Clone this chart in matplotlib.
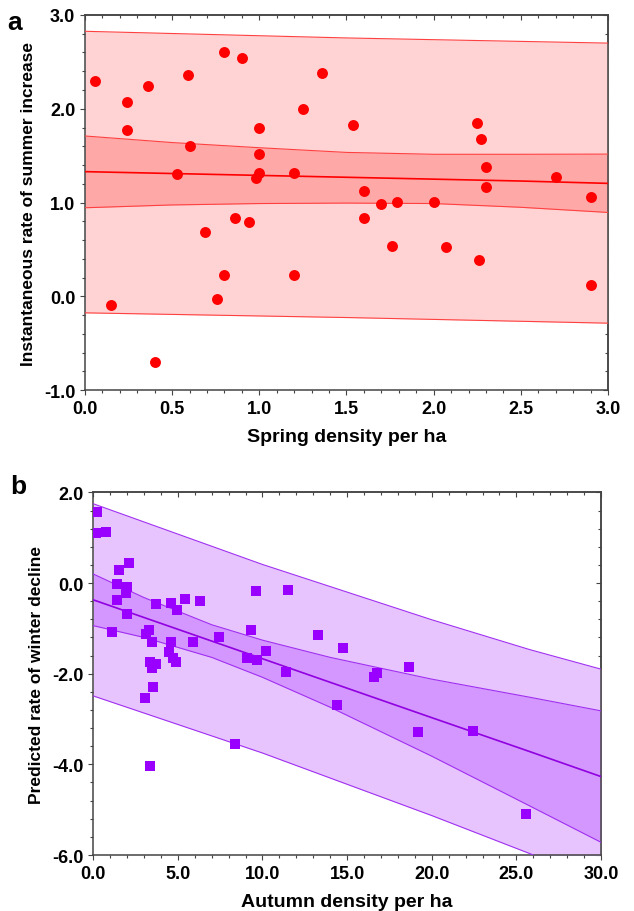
import matplotlib
matplotlib.use("Agg")
import matplotlib.pyplot as plt
from matplotlib.ticker import MultipleLocator, FormatStrFormatter

plt.rcParams['font.family'] = ['Liberation Sans', 'DejaVu Sans']
plt.rcParams['font.weight'] = 'bold'

# panel a: spring density vs instantaneous rate of summer increase
spring_x = [0.06, 0.24, 0.24, 0.36, 0.59, 0.60, 0.53, 0.80, 0.90, 1.00,
            1.00, 1.00, 0.98, 1.20, 1.25, 1.36, 1.54, 1.60, 2.25, 2.27,
            2.30, 2.30, 2.70, 2.90, 1.70, 1.79, 2.00, 1.60, 1.76, 2.07,
            2.26, 2.90, 0.69, 0.86, 0.94, 0.80, 1.20, 0.76, 0.15, 0.40]
summer_y = [2.30, 2.07, 1.77, 2.24, 2.36, 1.60, 1.31, 2.61, 2.54, 1.80,
            1.52, 1.32, 1.26, 1.32, 2.00, 2.38, 1.83, 1.12, 1.85, 1.68,
            1.38, 1.17, 1.27, 1.06, 0.99, 1.01, 1.01, 0.84, 0.54, 0.53,
            0.39, 0.12, 0.69, 0.84, 0.79, 0.23, 0.23, -0.03, -0.09, -0.70]

# fitted line and bands
a_band_x = [0.0, 0.5, 1.0, 1.5, 2.0, 2.5, 3.0]
a_fit = [1.33, 1.31, 1.29, 1.27, 1.25, 1.23, 1.205]
a_ci_hi = [1.71, 1.64, 1.585, 1.535, 1.515, 1.515, 1.517]
a_ci_lo = [0.945, 0.975, 0.99, 0.995, 0.99, 0.95, 0.895]
a_pi_x = [0.0, 1.5, 3.0]
a_pi_hi = [2.826, 2.755, 2.70]
a_pi_lo = [-0.175, -0.225, -0.285]

# panel b: autumn density vs predicted rate of winter decline
autumn_x = [0.20, 0.14, 0.75, 1.50, 2.09, 1.42, 1.99, 1.91, 1.42, 2.01,
            3.71, 4.59, 4.95, 5.40, 6.29, 9.62, 11.51, 13.26, 14.78, 1.10,
            3.09, 3.31, 3.47, 4.59, 5.91, 7.41, 9.34, 4.49, 4.73, 4.91,
            3.35, 3.72, 3.47, 9.10, 9.67, 10.21, 3.55, 3.06, 8.37, 3.35,
            11.39, 16.57, 16.75, 18.66, 14.40, 19.21, 22.46, 25.59]
winter_y = [1.56, 1.11, 1.12, 0.29, 0.45, -0.02, -0.09, -0.21, -0.37, -0.69,
            -0.47, -0.44, -0.59, -0.36, -0.40, -0.17, -0.16, -1.15, -1.44, -1.09,
            -1.13, -1.03, -1.30, -1.29, -1.31, -1.18, -1.03, -1.52, -1.66, -1.75,
            -1.74, -1.79, -1.88, -1.66, -1.70, -1.49, -2.30, -2.54, -3.55, -4.03,
            -1.96, -2.07, -1.99, -1.86, -2.69, -3.29, -3.26, -5.10]

b_band_x = [0.0, 3.0, 7.0, 10.0, 14.0, 20.0, 25.8, 30.0]
b_fit = [-0.37, -0.76, -1.28, -1.67, -2.19, -2.97, -3.72, -4.27]
b_ci_hi = [0.20, -0.32, -0.92, -1.26, -1.64, -2.12, -2.52, -2.82]
b_ci_lo = [-0.94, -1.20, -1.64, -2.08, -2.74, -3.82, -4.92, -5.72]
b_pi_x = [0.0, 10.0, 15.0, 20.0, 25.8, 30.0]
b_pi_hi = [1.75, 0.41, -0.20, -0.81, -1.47, -1.90]
b_pi_lo = [-2.49, -3.75, -4.44, -5.13, -5.97, -6.64]

TICK_FS = 13
XLAB_FS = 14
YLAB_FS = 12.5


def style_axes(ax, xmaj, xmin, ymaj, ymin, xfmt, yfmt):
    ax.xaxis.set_major_locator(MultipleLocator(xmaj))
    ax.xaxis.set_minor_locator(MultipleLocator(xmin))
    ax.yaxis.set_major_locator(MultipleLocator(ymaj))
    ax.yaxis.set_minor_locator(MultipleLocator(ymin))
    ax.xaxis.set_major_formatter(FormatStrFormatter(xfmt))
    ax.yaxis.set_major_formatter(FormatStrFormatter(yfmt))
    ax.tick_params(which='both', direction='out', color='#444444', labelsize=TICK_FS)
    ax.tick_params(which='major', length=3.5, width=0.8)
    ax.tick_params(which='minor', length=2.2, width=0.8)
    for s in ax.spines.values():
        s.set_linewidth(1.1)
        s.set_color('#444444')
    # top and right ticks point inward
    top = ax.secondary_xaxis('top')
    right = ax.secondary_yaxis('right')
    for sec, axis in ((top, top.xaxis), (right, right.yaxis)):
        axis.set_major_locator(MultipleLocator(xmaj if sec is top else ymaj))
        axis.set_minor_locator(MultipleLocator(xmin if sec is top else ymin))
        sec.tick_params(which='both', direction='in', color='#444444',
                        labeltop=False, labelright=False)
        sec.tick_params(which='major', length=3.5, width=0.8)
        sec.tick_params(which='minor', length=2.2, width=0.8)
        for s in sec.spines.values():
            s.set_linewidth(1.1)
            s.set_color('#444444')
    for lab in ax.get_xticklabels() + ax.get_yticklabels():
        lab.set_fontweight('bold')


fig = plt.figure(figsize=(6.34, 9.12), dpi=100)

# ---- panel a ----
ax1 = fig.add_axes([0.134, 0.571, 0.825, 0.4115])
ax1.fill_between(a_pi_x, a_pi_lo, a_pi_hi, color='#ffd3d3', lw=0, zorder=1)
ax1.fill_between(a_band_x, a_ci_lo, a_ci_hi, color='#ffa8a8', lw=0, zorder=2)
for yy in (a_ci_lo, a_ci_hi):
    ax1.plot(a_band_x, yy, color='#ff4040', lw=0.8, zorder=3)
for yy in (a_pi_lo, a_pi_hi):
    ax1.plot(a_pi_x, yy, color='#ff4040', lw=0.8, zorder=3)
ax1.plot(a_band_x, a_fit, color='#ff0000', lw=1.2, zorder=3)
ax1.scatter(spring_x, summer_y, s=62, color='#ff0000', lw=0, zorder=4)
ax1.set_xlim(0, 3)
ax1.set_ylim(-1, 3)
style_axes(ax1, 0.5, 0.1, 1.0, 0.2, '%.1f', '%.1f')
ax1.set_xlabel('Spring density per ha', fontsize=XLAB_FS, fontweight='bold', labelpad=8)
ax1.set_ylabel('Instantaneous rate of summer increase', fontsize=YLAB_FS,
               fontweight='bold', labelpad=6)
fig.text(0.012, 0.975, 'a', fontsize=19, fontweight='bold', va='center')

# ---- panel b ----
ax2 = fig.add_axes([0.147, 0.0614, 0.801, 0.3976])
ax2.fill_between(b_pi_x, b_pi_lo, b_pi_hi, color='#e8c4ff', lw=0, zorder=1)
ax2.fill_between(b_band_x, b_ci_lo, b_ci_hi, color='#d496ff', lw=0, zorder=2)
for yy in (b_ci_lo, b_ci_hi):
    ax2.plot(b_band_x, yy, color='#a030f0', lw=0.8, zorder=3)
for yy in (b_pi_lo, b_pi_hi):
    ax2.plot(b_pi_x, yy, color='#a030f0', lw=0.8, zorder=3)
ax2.plot(b_band_x, b_fit, color='#9000e0', lw=1.2, zorder=3)
ax2.scatter(autumn_x, winter_y, s=42, marker='s', color='#9900ff', lw=0, zorder=4)
ax2.set_xlim(0, 30)
ax2.set_ylim(-6, 2)
style_axes(ax2, 5, 1, 2, 0.4, '%.1f', '%.1f')
ax2.set_xlabel('Autumn density per ha', fontsize=XLAB_FS, fontweight='bold', labelpad=8)
ax2.set_ylabel('Predicted rate of winter decline', fontsize=YLAB_FS,
               fontweight='bold', labelpad=6)
fig.text(0.016, 0.466, 'b', fontsize=19, fontweight='bold', va='center')

fig.savefig('out.png', dpi=100)
